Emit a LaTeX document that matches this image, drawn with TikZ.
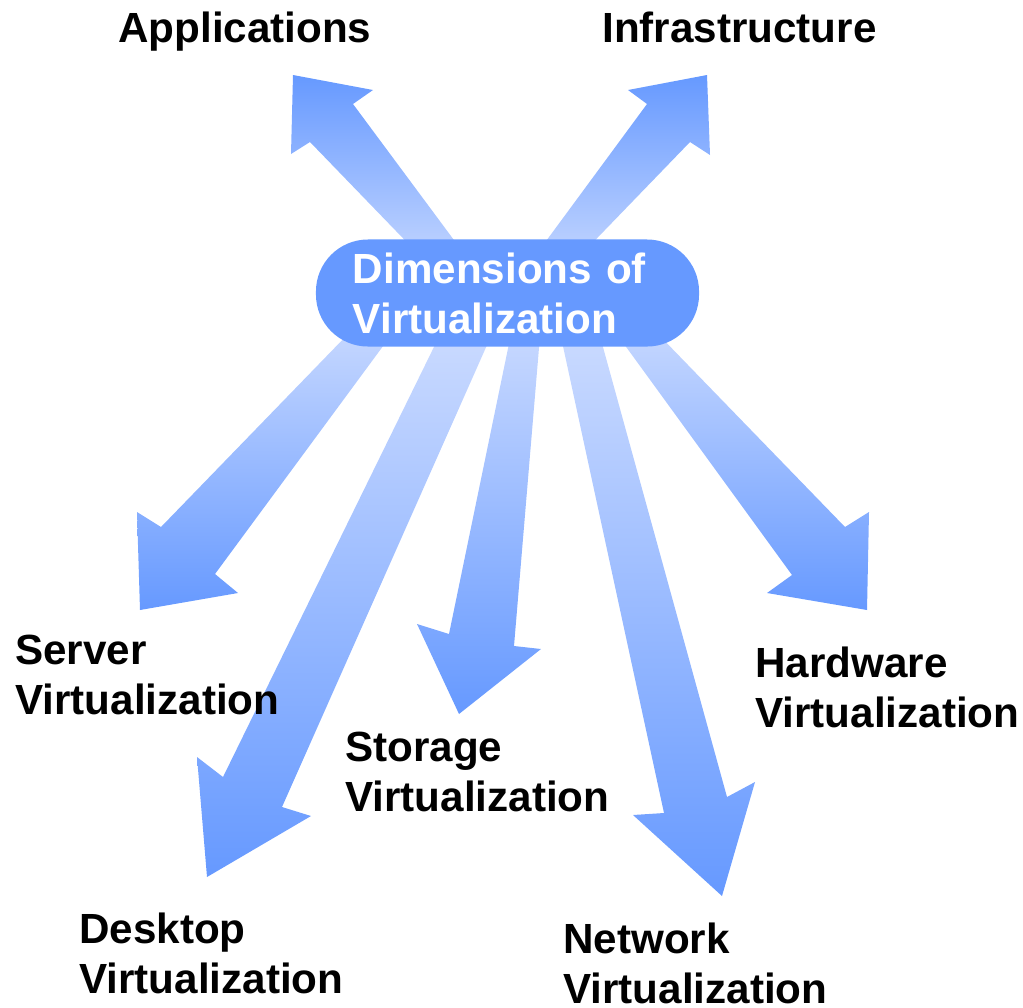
\documentclass[tikz,border=0pt]{standalone}
\usepackage{fontspec}
\setmainfont{Liberation Sans}
\definecolor{arrowdark}{RGB}{102,153,255}
\definecolor{arrowpale}{RGB}{208,222,255}
\tikzset{pill/.style     = {rectangle, rounded corners=1.3cm, fill=arrowdark, text=white, minimum width=9.575cm,
		minimum height=2.675cm, inner xsep=0.925cm, text width=7.725cm, align=left,
		font=\bfseries\fontsize{30}{35.6}\selectfont},
	dimlabel/.style = {anchor=north west, inner sep=0pt, align=left, font=\bfseries\fontsize{30}{35.6}\selectfont},
	downarrow/.style = {top color=arrowpale, bottom color=arrowdark},
	uparrow/.style   = {top color=arrowdark, bottom color=arrowpale}
}

\begin{document}
\begin{tikzpicture}[x=0.025cm, y=-0.025cm]
	\useasboundingbox (0,0) rectangle (1023,1007);
	%% block arrows, tails hidden under the pill
	\path[uparrow] (453,290) -- (310,142) -- (291,154) -- (293,75) -- (373,90) -- (353,104) -- (491,290) -- cycle;
	\path[uparrow] (510,290) -- (647,104) -- (628,90) -- (707,75) -- (710,155) -- (690,142) -- (547,290) -- cycle;
	\path[downarrow] (381,300) -- (161,527) -- (137,512) -- (140,610) -- (238,593) -- (215,574) -- (417,300) -- cycle;
	\path[downarrow] (457,300) -- (223,777) -- (197,757) -- (207,877) -- (311,816) -- (282,807) -- (507,300) -- cycle;
	\path[downarrow] (518,300) -- (449,634) -- (417,624) -- (459,714) -- (541,649) -- (514,646) -- (543,300) -- cycle;
	\path[downarrow] (553,300) -- (664,813) -- (633,815) -- (722,896) -- (755,782) -- (727,797) -- (590,300) -- cycle;
	\path[downarrow] (592,300) -- (792,575) -- (767,593) -- (867,610) -- (869,512) -- (845,527) -- (625,300) -- cycle;
	\node [pill] (dim) at (507.5,293) {Dimensions of\\Virtualization};
	%% labels at the arrow heads
	\node [dimlabel] (app) at (118,12) {Applications};
	\node [dimlabel] (infra) at (602,12) {Infrastructure};
	\node [dimlabel] (server) at (15,635) {Server\\Virtualization};
	\node [dimlabel] (desktop) at (79,913) {Desktop\\Virtualization};
	\node [dimlabel] (storage) at (345,732) {Storage\\Virtualization};
	\node [dimlabel] (network) at (563,923) {Network\\Virtualization};
	\node [dimlabel] (hardware) at (755,647) {Hardware\\Virtualization};
\end{tikzpicture}
\end{document}
